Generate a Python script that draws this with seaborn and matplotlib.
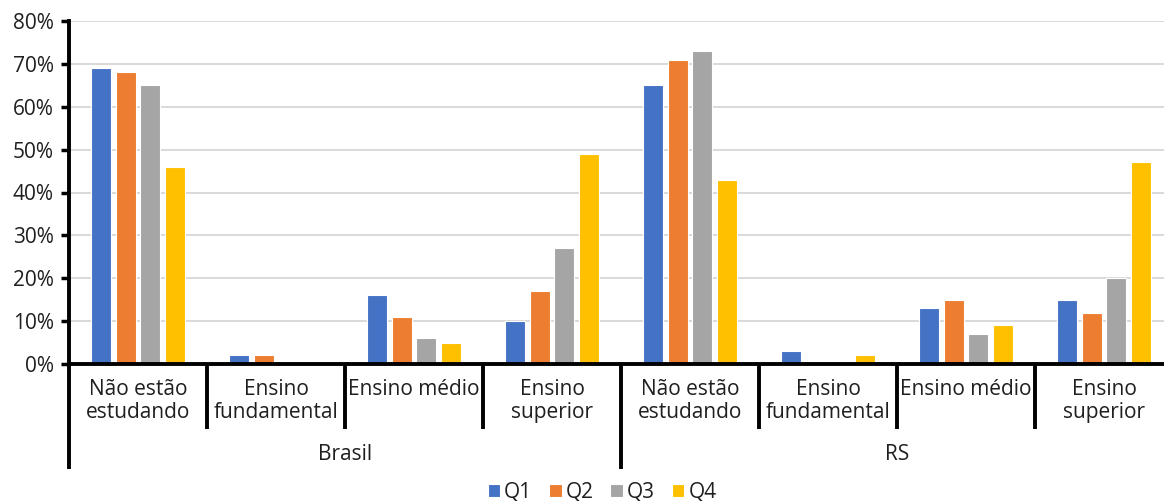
import matplotlib
matplotlib.use("Agg")
import matplotlib.pyplot as plt
import matplotlib.transforms as mtransforms
import pandas as pd
import seaborn as sns

# Share of people by schooling situation and income quartile
grupos = ["Brasil", "RS"]
categorias = ["Não estão\nestudando", "Ensino\nfundamental", "Ensino médio", "Ensino\nsuperior"]
quartis = ["Q1", "Q2", "Q3", "Q4"]

brasil_q1 = [69, 2, 16, 10]
brasil_q2 = [68, 2, 11, 17]
brasil_q3 = [65, 0, 6, 27]
brasil_q4 = [46, 0, 5, 49]

rs_q1 = [65, 3, 13, 15]
rs_q2 = [71, 0, 15, 12]
rs_q3 = [73, 0, 7, 20]
rs_q4 = [43, 2, 9, 47]

cores = ["#4472C4", "#ED7D31", "#A5A5A5", "#FFC000"]

valores = {
    "Brasil": [brasil_q1, brasil_q2, brasil_q3, brasil_q4],
    "RS": [rs_q1, rs_q2, rs_q3, rs_q4],
}

linhas = []
ordem = []
for g in grupos:
    for ci, cat in enumerate(categorias):
        chave = f"{g}|{cat}"
        ordem.append(chave)
        for qi, q in enumerate(quartis):
            linhas.append({"chave": chave, "quartil": q, "valor": valores[g][qi][ci] / 100})
df = pd.DataFrame(linhas)

sns.set_theme(style="white")
plt.rcParams["font.family"] = ["Open Sans", "DejaVu Sans"]

FS = 15
TXT = "#1f1f1f"

W, H = 1164, 501
fig = plt.figure(figsize=(W / 100, H / 100), dpi=100)
x0, x1 = 69, 1173
y_top, y_base = 21, 364
ax = fig.add_axes([x0 / W, (H - y_base) / H, (x1 - x0) / W, (y_base - y_top) / H])

sns.barplot(data=df, x="chave", y="valor", hue="quartil", order=ordem,
            hue_order=quartis, palette=cores, saturation=1, width=0.71, gap=0.19,
            edgecolor="white", linewidth=0.8, ax=ax, legend=True, zorder=3)

ax.set_xlim(-0.5, len(ordem) - 0.5)
ax.set_ylim(0, 0.8)
ax.set_yticks([i / 10 for i in range(9)])
ax.set_yticklabels([f"{i * 10}%" for i in range(9)], fontsize=FS, color=TXT)
ax.yaxis.grid(True, color="#D9D9D9", linewidth=1.4, zorder=0)
ax.set_axisbelow(True)
ax.set_xlabel("")
ax.set_ylabel("")

for s in ["top", "right"]:
    ax.spines[s].set_visible(False)
for s in ["left", "bottom"]:
    ax.spines[s].set_color("black")
    ax.spines[s].set_linewidth(2.8)
    ax.spines[s].set_zorder(6)
ax.tick_params(axis="y", which="major", direction="out", length=6, width=2.5,
               color="black", left=True, pad=5)

ax.set_xticks(range(len(ordem)))
ax.set_xticklabels([c for _ in grupos for c in categorias], fontsize=FS,
                   color=TXT, linespacing=1.12)
ax.tick_params(axis="x", length=0, pad=11)
for lbl in ax.get_xticklabels():
    lbl.set_verticalalignment("top")

# Category and group separators below the axis
trans = mtransforms.blended_transform_factory(ax.transData, ax.transAxes)
h_ax = y_base - y_top
curto = -65 / h_ax
longo = -105 / h_ax
n_cat = len(categorias)
for i in range(len(ordem) + 1):
    xpos = i - 0.5
    ybot = longo if i % n_cat == 0 else curto
    ax.plot([xpos, xpos], [0, ybot], transform=trans, color="black",
            linewidth=2.8, clip_on=False, solid_capstyle="butt")

for gi, g in enumerate(grupos):
    centro = gi * n_cat + (n_cat - 1) / 2
    ax.text(centro, -91 / h_ax, g, transform=trans, ha="center", va="center",
            fontsize=FS, color=TXT)

leg = ax.legend(loc="center", bbox_to_anchor=(602 / W, 9 / H),
                bbox_transform=fig.transFigure, ncol=4, frameon=False,
                fontsize=FS, handlelength=0.6, handleheight=0.6,
                handletextpad=0.2, columnspacing=0.8)
for t in leg.get_texts():
    t.set_color(TXT)

fig.savefig("out.png", dpi=100)
